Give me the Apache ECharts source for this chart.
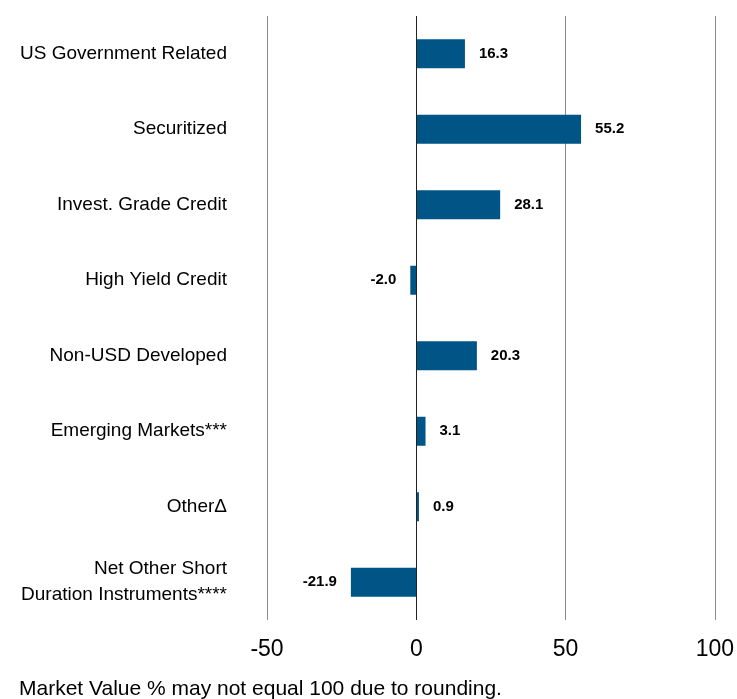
<!DOCTYPE html>
<html>
<head>
<meta charset="utf-8">
<script src="https://cdn.jsdelivr.net/npm/echarts@6/dist/echarts.min.js"></script>
<style>
  html, body { margin: 0; padding: 0; background: #fff; }
  #grafico { width: 737px; height: 699px; }
</style>
</head>
<body>
<div id="grafico"></div>
<script>
// Datos del gráfico
const categorias = [
  'US Government Related',
  'Securitized',
  'Invest. Grade Credit',
  'High Yield Credit',
  'Non-USD Developed',
  'Emerging Markets***',
  'Other\u0394',
  'Net Other Short\nDuration Instruments****'
];
const valores = [16.3, 55.2, 28.1, -2.0, 20.3, 3.1, 0.9, -21.9];
const ticksX = [-50, 0, 50, 100];
const nota = 'Market Value % may not equal 100 due to rounding.';

const fuente = '"Liberation Sans Narrow", "Arial Narrow", "Liberation Sans", Arial, sans-serif';

document.addEventListener('DOMContentLoaded', function () {
  const chart = echarts.init(document.getElementById('grafico'));

  chart.setOption({
    animation: false,
    textStyle: { fontFamily: fuente },
    title: {
      text: nota,
      left: 14,
      top: 674,
      textStyle: { fontSize: 21, fontWeight: 'normal', color: '#000', fontFamily: fuente }
    },
    grid: { left: 267, right: 17, top: 16, bottom: 79 },
    xAxis: {
      type: 'value',
      min: ticksX[0],
      max: ticksX[ticksX.length - 1],
      interval: 50,
      axisLine: { show: false },
      axisTick: { show: false },
      axisLabel: { fontSize: 23, color: '#000', margin: 18, fontFamily: fuente },
      splitLine: { lineStyle: { color: '#8c8c8c', width: 1 } }
    },
    yAxis: {
      type: 'category',
      inverse: true,
      data: categorias,
      axisLine: { show: false },
      axisTick: { show: false },
      axisLabel: {
        fontSize: 19,
        color: '#000',
        margin: 40,
        lineHeight: 26,
        align: 'right',
        fontFamily: fuente
      }
    },
    series: [{
      name: 'Market Value %',
      type: 'bar',
      data: valores.map(function (v) {
        return {
          value: v,
          label: { position: v < 0 ? 'left' : 'right' }
        };
      }),
      barWidth: 29,
      itemStyle: { color: '#005587' },
      label: {
        show: true,
        distance: 14,
        fontSize: 15,
        fontWeight: 'bold',
        color: '#000',
        fontFamily: fuente,
        formatter: function (p) { return p.value.toFixed(1); }
      },
      markLine: {
        silent: true,
        symbol: 'none',
        label: { show: false },
        lineStyle: { color: '#222', width: 1, type: 'solid' },
        data: [{ xAxis: 0 }]
      }
    }]
  });
});
</script>
</body>
</html>
